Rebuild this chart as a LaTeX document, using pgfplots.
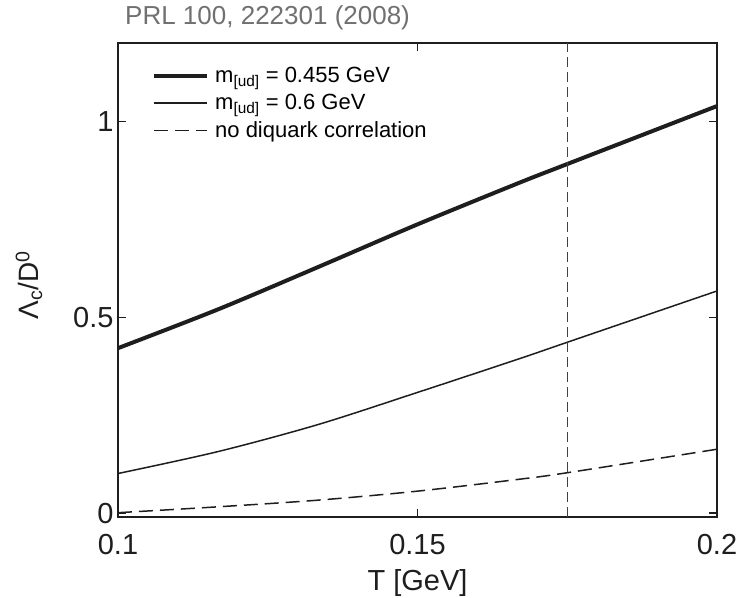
\documentclass[border=0pt]{standalone}
\usepackage{pgfplots}
\pgfplotsset{compat=1.18}
\usepackage{fontspec}
\setmainfont{Liberation Sans}
\definecolor{ink}{HTML}{1E1E1E}
\definecolor{titlegray}{HTML}{707070}
\begin{document}
\begin{tikzpicture}
\begin{axis}[
  scale only axis,
  width=599pt, height=474pt,
  xmin=0.1, xmax=0.2, ymin=-0.01, ymax=1.2,
  xtick={0.1,0.15,0.2}, xticklabels={0.1,0.15,0.2},
  ytick={0,0.5,1}, yticklabels={0,0.5,1},
  tick align=inside,
  major tick length=8pt,
  every tick/.style={line width=1.2pt, ink},
  axis line style={line width=2.4pt, ink},
  /pgf/number format/assume math mode=true,
  ticklabel style={font=\fontsize{29}{31}\selectfont, text=ink},
  xticklabel style={yshift=-14pt},
  yticklabel style={xshift=-1pt},
  xlabel={T [GeV]},
  ylabel={Λ\textsubscript{c}/D\textsuperscript{0}},
  xlabel style={at={(axis description cs:0.5,0)}, anchor=center, yshift=-66pt, font=\fontsize{29}{31}\selectfont, text=ink},
  ylabel style={at={(axis description cs:-0.1486,0.489)}, anchor=center, font=\fontsize{28}{30}\selectfont, text=ink},
  title={PRL 100, 222301 (2008)},
  title style={at={(axis description cs:0,1)}, anchor=base west, xshift=7pt, yshift=12pt, inner sep=0pt, font=\fontsize{26}{28}\selectfont, text=titlegray},
  legend style={draw=none, fill=none, at={(axis description cs:0,1)}, anchor=north west, xshift=34pt, yshift=-22pt,
    font=\fontsize{22}{24}\selectfont, inner sep=0pt, row sep=6.5pt,
    /tikz/every odd column/.append style={column sep=4pt}},
  legend cell align=left,
  legend image code/.code={\draw[#1] (0pt,0pt) -- (53pt,0pt);},
]
\addplot[ink, line width=4pt, smooth] coordinates {
  (0.1,0.421) (0.1167,0.520) (0.1334,0.628) (0.15,0.737) (0.1668,0.842) (0.175,0.891) (0.2,1.039)};
\addlegendentry{m\textsubscript{[ud]} = 0.455 GeV}
\addplot[ink, line width=1.5pt, smooth] coordinates {
  (0.1,0.101) (0.1167,0.157) (0.1334,0.226) (0.15,0.308) (0.1668,0.393) (0.175,0.436) (0.2,0.567)};
\addlegendentry{m\textsubscript{[ud]} = 0.6 GeV}
\addplot[ink, line width=1.5pt, dash pattern=on 14pt off 7pt, smooth] coordinates {
  (0.1,0.001) (0.1167,0.016) (0.1334,0.033) (0.15,0.056) (0.1668,0.086) (0.175,0.103) (0.2,0.163)};
\addlegendentry{no diquark correlation}
\addplot[ink!85, line width=1pt, dash pattern=on 10pt off 5pt, forget plot] coordinates {(0.175,-0.01) (0.175,1.2)};
\end{axis}
\pgfresetboundingbox
\path[use as bounding box] ([xshift=-118pt,yshift=-81pt]current axis.south west) rectangle ([xshift=21pt,yshift=43pt]current axis.north east);
\end{tikzpicture}
\end{document}
